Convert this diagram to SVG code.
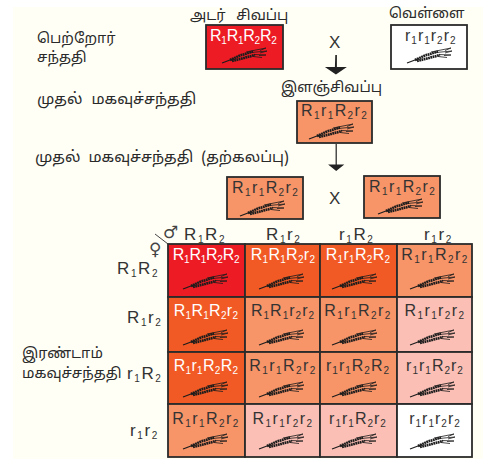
<svg xmlns="http://www.w3.org/2000/svg" width="483" height="459" viewBox="0 0 483 459">
<style>
.t{font-family:"Noto Sans Tamil","Noto Sans","Liberation Sans",sans-serif;font-size:14.5px;fill:#2a2a2a}
.g{font-family:"Liberation Sans",Arial,sans-serif;font-size:16px;fill:#333}
.h{font-size:17px;letter-spacing:1.6px}
.m{text-anchor:middle}
.wt{fill:#fff}
.g tspan.s{font-size:10px}
.h tspan.s{font-size:10px}
.a{letter-spacing:-.25px}.b{letter-spacing:.3px}.c{letter-spacing:1px}.d{letter-spacing:1.4px}
.box{stroke:#2b2b2b;stroke-width:1.8}
.red{fill:#ed1c24}.dk{fill:#f15a24}.lt{fill:#f79468}.pk{fill:#fbbfb5}.wh{fill:#fff}
.sym{font-family:"DejaVu Sans",sans-serif;font-size:17px;fill:#444}
</style>
<defs>
<g id="wheat" fill="none" stroke="#1c1c1c">
<path d="M0 15L12 10.500" stroke-width="1.200"/>
<path d="M8 12L18 7.500L31 3.500" stroke-width="2.600" stroke-dasharray="1.800 .5"/>
<path d="M10 13L20 10.500L33 7" stroke-width="2.600" stroke-dasharray="1.800 .5"/>
<path d="M24 4L44 0L38 2.500M29 4.500L45 3L38 5M32 6.500L44 7L37 7.500M31 8.500L40 9.500" stroke-width=".8"/>
</g>
</defs>
<rect width="483" height="459" fill="#fff"/>
<rect x="13" y="7" width="470" height="452" fill="#fffff6"/>

<g id="labels">
<text class="t" x="37" y="43">பெற்றோர்</text>
<text class="t" x="37" y="62">சந்ததி</text>
<text class="t" x="37" y="104" style="font-size:15.3px;word-spacing:5px">முதல் மகவுச்சந்ததி</text>
<text class="t" x="35" y="162" style="font-size:15.3px;word-spacing:4px">முதல் மகவுச்சந்ததி (தற்கலப்பு)</text>
<text class="t" x="22" y="358">இரண்டாம்</text>
<text class="t" x="22" y="378">மகவுச்சந்ததி</text>
<text class="t" x="190" y="20" style="word-spacing:7px">அடர் சிவப்பு</text>
<text class="t" x="389" y="18">வெள்ளை</text>
<text class="t" x="281" y="92">இளஞ்சிவப்பு</text>
<text class="g" x="329" y="48" style="font-size:17px">X</text>
<text class="g" x="329" y="204" style="font-size:17px">X</text>
</g>

<g id="connectors" fill="#222" stroke="none">
<path d="M335.3 55h1.600v12h10l-11 7.500l-11-7.500h10z"/>
<path d="M335.600 144h1.200v20.500h7.500l-8.100 6.500l-8.100-6.500h7.500z"/>
</g>

<g id="parent-red"><rect class="box red" x="206" y="25" width="77" height="44"/><text class="g wt a" x="210" y="41">R<tspan class="s" dy="3">1</tspan><tspan dy="-3">R</tspan><tspan class="s" dy="3">1</tspan><tspan dy="-3">R</tspan><tspan class="s" dy="3">2</tspan><tspan dy="-3">R</tspan><tspan class="s" dy="3">2</tspan></text><use href="#wheat" x="222" y="48"/></g>
<g id="parent-white"><rect class="box wh" x="391" y="25" width="76" height="44"/><text class="g c" x="405" y="41">r<tspan class="s" dy="3">1</tspan><tspan dy="-3">r</tspan><tspan class="s" dy="3">1</tspan><tspan dy="-3">r</tspan><tspan class="s" dy="3">2</tspan><tspan dy="-3">r</tspan><tspan class="s" dy="3">2</tspan></text><use href="#wheat" x="407" y="48"/></g>
<g id="f1"><rect class="box lt" x="297" y="101" width="75" height="42"/><text class="g d" x="301" y="116">R<tspan class="s" dy="3">1</tspan><tspan dy="-3">r</tspan><tspan class="s" dy="3">1</tspan><tspan dy="-3">R</tspan><tspan class="s" dy="3">2</tspan><tspan dy="-3">r</tspan><tspan class="s" dy="3">2</tspan></text><use href="#wheat" x="309" y="124"/></g>
<g id="selfed-left"><rect class="box lt" x="227" y="177" width="76" height="42"/><text class="g d" x="232" y="193">R<tspan class="s" dy="3">1</tspan><tspan dy="-3">r</tspan><tspan class="s" dy="3">1</tspan><tspan dy="-3">R</tspan><tspan class="s" dy="3">2</tspan><tspan dy="-3">r</tspan><tspan class="s" dy="3">2</tspan></text><use href="#wheat" x="240" y="201"/></g>
<g id="selfed-right"><rect class="box lt" x="364" y="176" width="76" height="42"/><text class="g d" x="369" y="192">R<tspan class="s" dy="3">1</tspan><tspan dy="-3">r</tspan><tspan class="s" dy="3">1</tspan><tspan dy="-3">R</tspan><tspan class="s" dy="3">2</tspan><tspan dy="-3">r</tspan><tspan class="s" dy="3">2</tspan></text><use href="#wheat" x="378" y="199"/></g>

<g id="punnett-headers">
<text class="g h" x="184" y="240">R<tspan class="s" dy="3">1</tspan><tspan dy="-3">R</tspan><tspan class="s" dy="3">2</tspan></text>
<text class="g h" x="266" y="240">R<tspan class="s" dy="3">1</tspan><tspan dy="-3">r</tspan><tspan class="s" dy="3">2</tspan></text>
<text class="g h" x="339" y="240">r<tspan class="s" dy="3">1</tspan><tspan dy="-3">R</tspan><tspan class="s" dy="3">2</tspan></text>
<text class="g h" x="424" y="240">r<tspan class="s" dy="3">1</tspan><tspan dy="-3">r</tspan><tspan class="s" dy="3">2</tspan></text>
<text class="g h" x="117" y="274">R<tspan class="s" dy="3">1</tspan><tspan dy="-3">R</tspan><tspan class="s" dy="3">2</tspan></text>
<text class="g h" x="127" y="323">R<tspan class="s" dy="3">1</tspan><tspan dy="-3">r</tspan><tspan class="s" dy="3">2</tspan></text>
<text class="g h" x="127" y="379">r<tspan class="s" dy="3">1</tspan><tspan dy="-3">R</tspan><tspan class="s" dy="3">2</tspan></text>
<text class="g h" x="130" y="436">r<tspan class="s" dy="3">1</tspan><tspan dy="-3">r</tspan><tspan class="s" dy="3">2</tspan></text>
<text class="sym" x="163" y="238">♂</text>
<text class="sym" x="149" y="255">♀</text>
<path d="M155 234L168 244" stroke="#444" stroke-width="1" fill="none"/>
</g>

<g id="c11"><rect class="box red" x="168" y="244" width="77" height="53"/><text class="g wt m a" x="206" y="260">R<tspan class="s" dy="3">1</tspan><tspan dy="-3">R</tspan><tspan class="s" dy="3">1</tspan><tspan dy="-3">R</tspan><tspan class="s" dy="3">2</tspan><tspan dy="-3">R</tspan><tspan class="s" dy="3">2</tspan></text><use href="#wheat" x="183" y="274"/></g>
<g id="c12"><rect class="box dk" x="245" y="244" width="75" height="53"/><text class="g wt m b" x="283" y="260">R<tspan class="s" dy="3">1</tspan><tspan dy="-3">R</tspan><tspan class="s" dy="3">1</tspan><tspan dy="-3">R</tspan><tspan class="s" dy="3">2</tspan><tspan dy="-3">r</tspan><tspan class="s" dy="3">2</tspan></text><use href="#wheat" x="259" y="274"/></g>
<g id="c13"><rect class="box dk" x="320" y="244" width="77" height="53"/><text class="g wt m b" x="358" y="260">R<tspan class="s" dy="3">1</tspan><tspan dy="-3">r</tspan><tspan class="s" dy="3">1</tspan><tspan dy="-3">R</tspan><tspan class="s" dy="3">2</tspan><tspan dy="-3">R</tspan><tspan class="s" dy="3">2</tspan></text><use href="#wheat" x="332" y="274"/></g>
<g id="c14"><rect class="box lt" x="397" y="244" width="75" height="53"/><text class="g m d" x="435" y="260">R<tspan class="s" dy="3">1</tspan><tspan dy="-3">r</tspan><tspan class="s" dy="3">1</tspan><tspan dy="-3">R</tspan><tspan class="s" dy="3">2</tspan><tspan dy="-3">r</tspan><tspan class="s" dy="3">2</tspan></text><use href="#wheat" x="410" y="274"/></g>

<g id="c21"><rect class="box dk" x="168" y="297" width="77" height="55"/><text class="g wt m b" x="206" y="316">R<tspan class="s" dy="3">1</tspan><tspan dy="-3">R</tspan><tspan class="s" dy="3">1</tspan><tspan dy="-3">R</tspan><tspan class="s" dy="3">2</tspan><tspan dy="-3">r</tspan><tspan class="s" dy="3">2</tspan></text><use href="#wheat" x="183" y="330"/></g>
<g id="c22"><rect class="box lt" x="245" y="297" width="75" height="55"/><text class="g m c" x="283" y="316">R<tspan class="s" dy="3">1</tspan><tspan dy="-3">R</tspan><tspan class="s" dy="3">1</tspan><tspan dy="-3">r</tspan><tspan class="s" dy="3">2</tspan><tspan dy="-3">r</tspan><tspan class="s" dy="3">2</tspan></text><use href="#wheat" x="259" y="330"/></g>
<g id="c23"><rect class="box lt" x="320" y="297" width="77" height="55"/><text class="g m d" x="358" y="316">R<tspan class="s" dy="3">1</tspan><tspan dy="-3">r</tspan><tspan class="s" dy="3">1</tspan><tspan dy="-3">R</tspan><tspan class="s" dy="3">2</tspan><tspan dy="-3">r</tspan><tspan class="s" dy="3">2</tspan></text><use href="#wheat" x="332" y="330"/></g>
<g id="c24"><rect class="box pk" x="397" y="297" width="75" height="55"/><text class="g m d" x="435" y="316">R<tspan class="s" dy="3">1</tspan><tspan dy="-3">r</tspan><tspan class="s" dy="3">1</tspan><tspan dy="-3">r</tspan><tspan class="s" dy="3">2</tspan><tspan dy="-3">r</tspan><tspan class="s" dy="3">2</tspan></text><use href="#wheat" x="410" y="330"/></g>

<g id="c31"><rect class="box dk" x="168" y="352" width="77" height="52"/><text class="g wt m b" x="206" y="371">R<tspan class="s" dy="3">1</tspan><tspan dy="-3">r</tspan><tspan class="s" dy="3">1</tspan><tspan dy="-3">R</tspan><tspan class="s" dy="3">2</tspan><tspan dy="-3">R</tspan><tspan class="s" dy="3">2</tspan></text><use href="#wheat" x="183" y="382"/></g>
<g id="c32"><rect class="box lt" x="245" y="352" width="75" height="52"/><text class="g m d" x="283" y="371">R<tspan class="s" dy="3">1</tspan><tspan dy="-3">r</tspan><tspan class="s" dy="3">1</tspan><tspan dy="-3">R</tspan><tspan class="s" dy="3">2</tspan><tspan dy="-3">r</tspan><tspan class="s" dy="3">2</tspan></text><use href="#wheat" x="259" y="382"/></g>
<g id="c33"><rect class="box lt" x="320" y="352" width="77" height="52"/><text class="g m c" x="358" y="371">r<tspan class="s" dy="3">1</tspan><tspan dy="-3">r</tspan><tspan class="s" dy="3">1</tspan><tspan dy="-3">R</tspan><tspan class="s" dy="3">2</tspan><tspan dy="-3">R</tspan><tspan class="s" dy="3">2</tspan></text><use href="#wheat" x="332" y="382"/></g>
<g id="c34"><rect class="box pk" x="397" y="352" width="75" height="52"/><text class="g m c" x="435" y="371">r<tspan class="s" dy="3">1</tspan><tspan dy="-3">r</tspan><tspan class="s" dy="3">1</tspan><tspan dy="-3">R</tspan><tspan class="s" dy="3">2</tspan><tspan dy="-3">r</tspan><tspan class="s" dy="3">2</tspan></text><use href="#wheat" x="410" y="382"/></g>

<g id="c41"><rect class="box lt" x="168" y="404" width="77" height="53"/><text class="g m d" x="206" y="424">R<tspan class="s" dy="3">1</tspan><tspan dy="-3">r</tspan><tspan class="s" dy="3">1</tspan><tspan dy="-3">R</tspan><tspan class="s" dy="3">2</tspan><tspan dy="-3">r</tspan><tspan class="s" dy="3">2</tspan></text><use href="#wheat" x="183" y="434"/></g>
<g id="c42"><rect class="box pk" x="245" y="404" width="75" height="53"/><text class="g m d" x="283" y="424">R<tspan class="s" dy="3">1</tspan><tspan dy="-3">r</tspan><tspan class="s" dy="3">1</tspan><tspan dy="-3">r</tspan><tspan class="s" dy="3">2</tspan><tspan dy="-3">r</tspan><tspan class="s" dy="3">2</tspan></text><use href="#wheat" x="259" y="434"/></g>
<g id="c43"><rect class="box pk" x="320" y="404" width="77" height="53"/><text class="g m c" x="358" y="424">r<tspan class="s" dy="3">1</tspan><tspan dy="-3">r</tspan><tspan class="s" dy="3">1</tspan><tspan dy="-3">R</tspan><tspan class="s" dy="3">2</tspan><tspan dy="-3">r</tspan><tspan class="s" dy="3">2</tspan></text><use href="#wheat" x="332" y="434"/></g>
<g id="c44"><rect class="box wh" x="397" y="404" width="75" height="53"/><text class="g m c" x="435" y="424">r<tspan class="s" dy="3">1</tspan><tspan dy="-3">r</tspan><tspan class="s" dy="3">1</tspan><tspan dy="-3">r</tspan><tspan class="s" dy="3">2</tspan><tspan dy="-3">r</tspan><tspan class="s" dy="3">2</tspan></text><use href="#wheat" x="410" y="434"/></g>
</svg>
